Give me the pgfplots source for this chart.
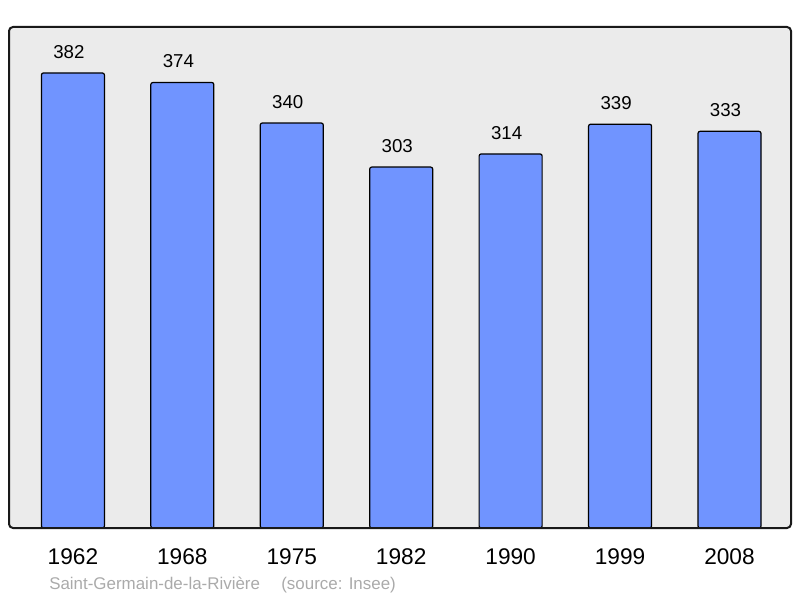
\documentclass[border=0pt]{standalone}
\usepackage{fontspec}
\setmainfont{Liberation Sans}
\usepackage{pgfplots}
\pgfplotsset{compat=1.18}
\definecolor{bgframe}{HTML}{EBEBEB}
\definecolor{barblue}{HTML}{7094FF}
\definecolor{srcgray}{HTML}{AAAAAA}
\begin{document}
\begin{tikzpicture}
\begin{axis}[
    scale only axis,
    width=586.5pt, height=375.75pt,
    xmin=-0.584, xmax=6.562,
    ymin=0, ymax=420.6,
    axis line style={draw=none},
    major tick length=0pt,
    ytick=\empty,
    xtick=data,
    xticklabels={1962,1968,1975,1982,1990,1999,2008},
    xticklabel style={anchor=base, yshift=-27pt, font=\fontsize{17}{20}\selectfont},
    /pgf/number format/assume math mode=true,
    ybar, bar width=47.25pt,
    nodes near coords,
    nodes near coords style={anchor=base, yshift=11pt, xshift=-3pt, font=\fontsize{14}{16}\selectfont, text=black},
    clip=false,
]
\draw[fill=bgframe, draw=none, rounded corners=3pt] (rel axis cs:0,0) rectangle (rel axis cs:1,1);
\addplot[fill=barblue, draw=black, line width=0.9pt, rounded corners=1.5pt] coordinates {
    (0,382) (1,374) (2,340) (3,303) (4,314) (5,339) (6,333)
};
\draw[line width=1.5pt, color=black!90, rounded corners=3pt] (rel axis cs:0,0) rectangle (rel axis cs:1,1);
\node[anchor=base west, text=srcgray, font=\fontsize{12.7}{15}\selectfont, inner sep=0pt]
    at ([shift={(30pt,-45.75pt)}]rel axis cs:0,0) {Saint-Germain-de-la-Rivière\hspace{16pt}(source: Insee)};
\coordinate (ll) at (rel axis cs:0,0);
\coordinate (ur) at (rel axis cs:1,1);
\end{axis}
\pgfresetboundingbox
\path ([shift={(-6.75pt,-52.5pt)}]ll) rectangle ([shift={(6.75pt,20.25pt)}]ur);
\end{tikzpicture}
\end{document}
